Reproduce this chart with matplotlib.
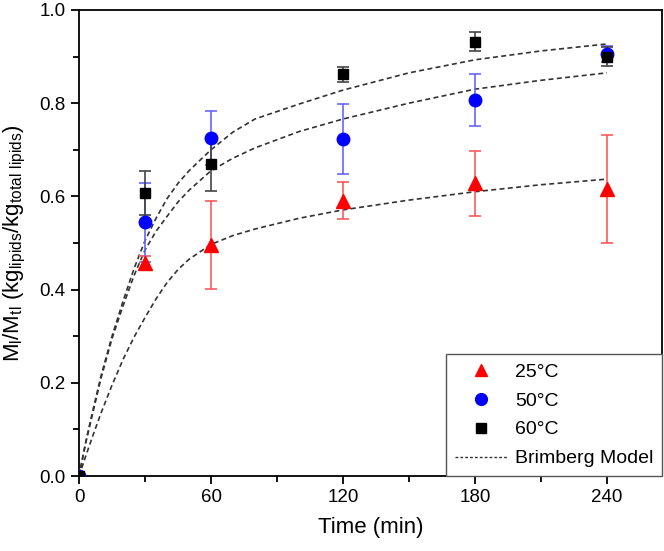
import matplotlib
matplotlib.use('Agg')
import matplotlib.pyplot as plt
from matplotlib.ticker import MultipleLocator
from matplotlib.lines import Line2D

plt.rcParams['font.family'] = ['Liberation Sans', 'DejaVu Sans']
plt.rcParams['mathtext.default'] = 'regular'

# measured points
time = [0, 30, 60, 120, 180, 240]
m25 = [0, 0.458, 0.496, 0.591, 0.628, 0.616]
e25 = [0, 0.015, 0.095, 0.040, 0.070, 0.115]
m50 = [0, 0.544, 0.725, 0.723, 0.807, 0.905]
e50 = [0, 0.084, 0.058, 0.075, 0.056, 0.017]
m60 = [0, 0.607, 0.669, 0.862, 0.932, 0.900]
e60 = [0, 0.048, 0.058, 0.016, 0.020, 0.020]

# Brimberg model curves
tm = [0, 3, 6, 10, 15, 20, 25, 30, 35, 40, 45, 50, 60, 70, 80, 100, 120, 150, 180, 210, 240]
b25 = [0, 0.042, 0.083, 0.135, 0.195, 0.25, 0.298, 0.34, 0.38, 0.415, 0.443, 0.465,
       0.497, 0.516, 0.53, 0.553, 0.571, 0.592, 0.610, 0.625, 0.637]
b50 = [0, 0.07, 0.13, 0.21, 0.295, 0.365, 0.43, 0.485, 0.525, 0.557, 0.588, 0.613,
       0.655, 0.682, 0.704, 0.739, 0.766, 0.80, 0.830, 0.849, 0.865]
b60 = [0, 0.072, 0.135, 0.215, 0.30, 0.375, 0.445, 0.505, 0.553, 0.595, 0.628, 0.655,
       0.700, 0.738, 0.766, 0.798, 0.828, 0.865, 0.893, 0.912, 0.927]

fig = plt.figure(figsize=(6.64, 5.51), dpi=100)
ax = fig.add_axes([0.119, 0.136, 0.878, 0.846])

dash = (0, (3, 2))
for b in (b25, b50, b60):
    ax.plot(tm, b, color='#333333', lw=1.2, linestyle=dash, zorder=2)

ax.errorbar(time, m25, yerr=e25, fmt='^', color='red', ms=10, mec='red',
            ecolor=(1, 0.35, 0.35), elinewidth=1.2, capsize=4, capthick=1.2, zorder=3)
ax.errorbar(time, m50, yerr=e50, fmt='o', color='blue', ms=9, mec='blue',
            ecolor=(0.4, 0.4, 1), elinewidth=1.2, capsize=4, capthick=1.2, zorder=3)
ax.errorbar(time, m60, yerr=e60, fmt='s', color='black', ms=7.5,
            ecolor='#444444', elinewidth=1.2, capsize=4, capthick=1.2, zorder=3)

ax.set_xlim(0, 265)
ax.set_ylim(0, 1.0)
ax.xaxis.set_major_locator(MultipleLocator(60))
ax.xaxis.set_minor_locator(MultipleLocator(30))
ax.yaxis.set_major_locator(MultipleLocator(0.2))
ax.yaxis.set_minor_locator(MultipleLocator(0.1))
ax.yaxis.set_major_formatter(plt.FormatStrFormatter('%.1f'))
ax.tick_params(which='major', direction='out', length=6, width=1.3, labelsize=13.5)
ax.tick_params(which='minor', direction='out', length=4, width=1.3)
for s in ax.spines.values():
    s.set_linewidth(1.3)

ax.set_xlabel('Time (min)', fontsize=16, labelpad=8)
ax.set_ylabel('M$_{l}$/M$_{tl}$ (kg$_{lipids}$/kg$_{total\\ lipids}$)', fontsize=16, labelpad=8)

handles = [
    Line2D([], [], marker='^', color='red', ls='none', ms=9),
    Line2D([], [], marker='o', color='blue', ls='none', ms=8.5),
    Line2D([], [], marker='s', color='black', ls='none', ms=7),
    Line2D([], [], color='#333333', lw=1.0, linestyle=(0, (2, 1.5))),
]
labels = ['25°C', '50°C', '60°C', 'Brimberg Model']
leg = ax.legend(handles, labels, loc='lower right', bbox_to_anchor=(1, 0),
                borderaxespad=0, fontsize=14, fancybox=False, framealpha=1,
                edgecolor='#555555', handlelength=2.7, handletextpad=0.4,
                labelspacing=0.58, borderpad=0.45)
leg.get_frame().set_linewidth(1.0)

fig.savefig('out.png', dpi=100)
